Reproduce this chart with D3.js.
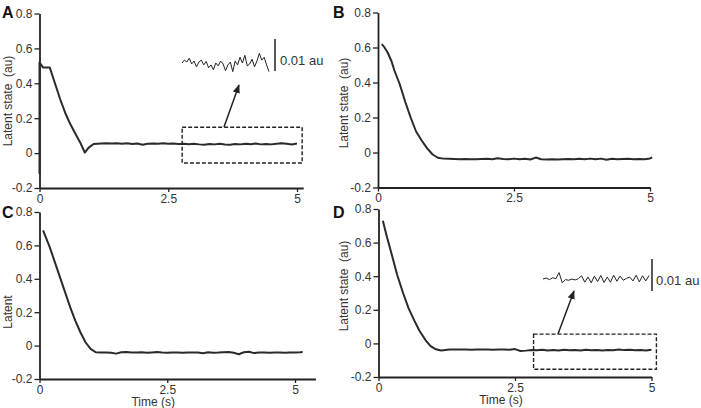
<!DOCTYPE html>
<html>
<head>
<meta charset="utf-8">
<script src="https://cdn.jsdelivr.net/npm/d3@7"></script>
<style>
  html, body { margin: 0; padding: 0; background: #fff; }
  svg { display: block; font-family: "Liberation Sans", Arial, sans-serif; }
</style>
</head>
<body>
<svg id="chart" width="701" height="408"></svg>
<script>
// ---------------- DATA ----------------
const yTicks = [-0.2, 0, 0.2, 0.4, 0.6, 0.8];
const yTickLabels = ["-0.2", "0", "0.2", "0.4", "0.6", "0.8"];
const xTicks = [0, 2.5, 5];
const xTickLabels = ["0", "2.5", "5"];

const timeA = [0,0,0.07,0.2,0.3,0.4,0.5,0.6,0.7,0.8,0.88,0.95,1.05,1.2,
  1.3,1.4,1.5,1.6,1.7,1.8,1.9,2.0,2.1,2.2,2.3,2.4,2.5,2.6,2.7,2.8,2.9,3.0,3.1,3.2,3.3,3.4,
  3.5,3.6,3.7,3.8,3.9,4.0,4.1,4.2,4.3,4.4,4.5,4.6,4.7,4.8,4.9,5.0];
const valueA = [-0.12,0.52,0.49,0.49,0.40,0.31,0.23,0.165,0.11,0.055,0.003,0.03,0.052,0.055,
  0.056,0.055,0.057,0.054,0.056,0.052,0.055,0.048,0.054,0.055,0.053,0.056,0.054,0.055,0.052,0.054,
  0.051,0.053,0.050,0.048,0.052,0.050,0.053,0.049,0.048,0.052,0.050,0.054,0.051,0.055,0.050,0.052,
  0.050,0.054,0.057,0.053,0.049,0.055];

const timeB = [0.07,0.12,0.18,0.25,0.3,0.4,0.5,0.6,0.7,0.8,0.9,1.0,1.1,1.2,
  1.3,1.4,1.5,1.6,1.7,1.8,1.9,2.0,2.1,2.2,2.3,2.4,2.5,2.6,2.7,2.8,2.9,3.0,3.1,3.2,3.3,3.4,
  3.5,3.6,3.7,3.8,3.9,4.0,4.1,4.2,4.3,4.4,4.5,4.6,4.7,4.8,4.9,5.0,5.04];
const valueB = [0.62,0.60,0.57,0.52,0.47,0.39,0.29,0.20,0.12,0.07,0.025,-0.01,-0.03,-0.035,
  -0.036,-0.037,-0.038,-0.037,-0.039,-0.038,-0.037,-0.036,-0.039,-0.033,-0.037,-0.038,-0.035,-0.038,
  -0.036,-0.040,-0.029,-0.039,-0.040,-0.039,-0.040,-0.038,-0.037,-0.039,-0.036,-0.038,-0.035,-0.039,
  -0.035,-0.041,-0.036,-0.038,-0.037,-0.036,-0.038,-0.037,-0.038,-0.034,-0.028];

const timeC = [0.07,0.2,0.3,0.4,0.5,0.6,0.7,0.8,0.9,1.0,1.1,1.2,
  1.3,1.4,1.5,1.6,1.7,1.8,1.9,2.0,2.1,2.2,2.3,2.4,2.5,2.6,2.7,2.8,2.9,3.0,3.1,3.2,3.3,3.4,
  3.5,3.6,3.7,3.8,3.9,4.0,4.1,4.2,4.3,4.4,4.5,4.6,4.7,4.8,4.9,5.0,5.1,5.15];
const valueC = [0.69,0.59,0.50,0.41,0.32,0.23,0.15,0.08,0.02,-0.02,-0.04,-0.042,
  -0.041,-0.043,-0.048,-0.040,-0.038,-0.042,-0.041,-0.040,-0.043,-0.041,-0.039,-0.042,-0.043,-0.042,
  -0.041,-0.043,-0.042,-0.041,-0.042,-0.046,-0.040,-0.043,-0.042,-0.040,-0.038,-0.043,-0.052,-0.040,
  -0.037,-0.045,-0.042,-0.041,-0.043,-0.042,-0.041,-0.043,-0.042,-0.041,-0.040,-0.039];

const timeD = [0.08,0.15,0.25,0.34,0.45,0.55,0.65,0.75,0.86,0.95,1.05,1.15,
  1.3,1.4,1.5,1.6,1.7,1.8,1.9,2.0,2.1,2.2,2.3,2.4,2.5,2.6,2.7,2.8,2.9,3.0,3.1,3.2,3.3,3.4,
  3.5,3.6,3.7,3.8,3.9,4.0,4.1,4.2,4.3,4.4,4.5,4.6,4.7,4.8,4.9,5.0];
const valueD = [0.73,0.64,0.52,0.41,0.30,0.21,0.14,0.075,0.02,-0.015,-0.035,-0.042,
  -0.037,-0.036,-0.037,-0.036,-0.038,-0.037,-0.036,-0.037,-0.038,-0.037,-0.036,-0.038,-0.034,-0.045,
  -0.043,-0.040,-0.041,-0.038,-0.042,-0.039,-0.042,-0.038,-0.041,-0.039,-0.042,-0.038,-0.041,-0.040,
  -0.042,-0.039,-0.041,-0.036,-0.040,-0.038,-0.041,-0.039,-0.042,-0.038];

// zoomed insets (deviation, au)
const insetA = [0.0000,0.0009,0.0003,0.0015,-0.0003,0.0006,-0.0012,0.0003,0.0009,-0.0006,0.0005,
  -0.0015,-0.0006,-0.0021,0.0000,-0.0009,0.0006,-0.0003,-0.0024,-0.0006,0.0003,-0.0027,0.0006,-0.0006,
  0.0018,0.0000,0.0024,-0.0009,-0.0003,0.0012,-0.0012,0.0006,0.0030,0.0009,0.0018,-0.0006,-0.0027];
const insetD = [0.0000,0.0003,-0.0002,0.0004,0.0001,0.0020,-0.0012,-0.0002,-0.0004,0.0000,-0.0003,
  0.0001,0.0010,-0.0010,0.0006,-0.0012,0.0009,-0.0008,0.0011,-0.0011,0.0006,-0.0010,0.0012,-0.0007,
  0.0009,-0.0004,0.0002,0.0006,-0.0006,0.0012,-0.0009,0.0010,-0.0006,0.0011];
const scaleBarValue = 0.01;
const scaleBarLabel = "0.01 au";

const panelLetters = ["A", "B", "C", "D"];
const yLabels = ["Latent state  (au)", "Latent state  (au)", "Latent", "Latent state  (au)"];
const xLabels = ["", "", "Time (s)", "Time (s)"];

// ---------------- LAYOUT ----------------
const panels = [
  { letter: 0, t: timeA, v: valueA, x0: 39.5, x5: 297, yTop: 13.5, yBot: 188, axisEnd: 5.12,
    lx: 2, ly: 18, ylx: 12, yly: 101,
    box: [2.77, 5.1, 0.148, -0.057], arrow: [224, 127, 239, 85],
    inset: insetA, insetX: [182, 269], insetY: 63, bar: [275, 39, 71], barText: [280, 65] },
  { letter: 1, t: timeB, v: valueB, x0: 378, x5: 650, yTop: 12.5, yBot: 187.5, axisEnd: 5.0,
    lx: 333, ly: 18, ylx: 348, yly: 103 },
  { letter: 2, t: timeC, v: valueC, x0: 39.5, x5: 295, yTop: 212, yBot: 379, axisEnd: 5.4,
    lx: 2, ly: 218, ylx: 12, yly: 312 },
  { letter: 3, t: timeD, v: valueD, x0: 378.5, x5: 651.5, yTop: 209, yBot: 377, axisEnd: 5.0,
    lx: 333, ly: 218, ylx: 348, yly: 286,
    box: [2.84, 5.09, 0.055, -0.154], arrow: [558, 334, 574, 291],
    inset: insetD, insetX: [543, 649], insetY: 279, bar: [652, 259, 291], barText: [656, 285] }
];

const svg = d3.select("#chart");
const ink = "#222";
const textInk = "#333";

svg.append("defs").append("marker")
  .attr("id", "arrowhead").attr("viewBox", "0 0 10 10")
  .attr("refX", 9).attr("refY", 5)
  .attr("markerWidth", 6).attr("markerHeight", 6)
  .attr("orient", "auto-start-reverse")
  .append("path").attr("d", "M0,1 L10,5 L0,9 z").attr("fill", ink);

panels.forEach(p => {
  const g = svg.append("g");
  const xEndPx = p.x0 + (p.x5 - p.x0) * p.axisEnd / 5;
  const x = d3.scaleLinear().domain([0, p.axisEnd]).range([p.x0, xEndPx]);
  const y = d3.scaleLinear().domain([-0.2, 0.8]).range([p.yBot, p.yTop]);

  // y axis
  const yAx = g.append("g").attr("transform", `translate(${p.x0},0)`)
    .call(d3.axisLeft(y).tickValues(yTicks).tickSize(5).tickSizeOuter(0).tickPadding(2)
      .tickFormat((d, i) => yTickLabels[i]));
  // x axis
  const xAx = g.append("g").attr("transform", `translate(0,${p.yBot})`)
    .call(d3.axisBottom(x).tickValues(xTicks).tickSize(4).tickSizeOuter(0).tickPadding(2)
      .tickFormat((d, i) => xTickLabels[i]));
  [yAx, xAx].forEach(ax => {
    ax.select(".domain").attr("stroke", ink).attr("stroke-width", 1.8);
    ax.selectAll(".tick line").attr("stroke", ink).attr("stroke-width", 1.3);
    ax.selectAll(".tick text").attr("fill", textInk)
      .style("font-family", "'Liberation Sans', Arial, sans-serif").style("font-size", "12px");
  });

  // data line
  const pts = p.t.map((t, i) => [t, p.v[i]]);
  g.append("path").datum(pts)
    .attr("fill", "none").attr("stroke", "#2a2a2a").attr("stroke-width", 2)
    .attr("stroke-linejoin", "round")
    .attr("d", d3.line().x(d => x(d[0])).y(d => y(d[1])));

  // panel letter
  g.append("text").attr("x", p.lx).attr("y", p.ly).text(panelLetters[p.letter])
    .attr("font-weight", "bold").attr("font-size", 16).attr("fill", "#111");

  // y label
  g.append("text").attr("transform", `translate(${p.ylx},${p.yly}) rotate(-90)`)
    .attr("text-anchor", "middle").attr("font-size", 12).attr("fill", textInk)
    .style("white-space", "pre").text(yLabels[p.letter]);

  // x label
  if (xLabels[p.letter]) {
    g.append("text").attr("x", x(2.5) - 14).attr("y", p.yBot + 27)
      .attr("text-anchor", "middle").attr("font-size", 12).attr("fill", textInk)
      .text(xLabels[p.letter]);
  }

  // zoom box, arrow, inset trace and scale bar
  if (p.box) {
    g.append("rect")
      .attr("x", x(p.box[0])).attr("y", y(p.box[2]))
      .attr("width", x(p.box[1]) - x(p.box[0])).attr("height", y(p.box[3]) - y(p.box[2]))
      .attr("fill", "none").attr("stroke", ink).attr("stroke-width", 1.4)
      .attr("stroke-dasharray", "4,2");
    g.append("line")
      .attr("x1", p.arrow[0]).attr("y1", p.arrow[1]).attr("x2", p.arrow[2]).attr("y2", p.arrow[3])
      .attr("stroke", ink).attr("stroke-width", 1.5).attr("marker-end", "url(#arrowhead)");
    const ix = d3.scaleLinear().domain([0, p.inset.length - 1]).range(p.insetX);
    const pxPerAu = (p.bar[2] - p.bar[1]) / scaleBarValue;
    const iy = d3.scaleLinear().domain([0, 1]).range([p.insetY, p.insetY - pxPerAu]);
    g.append("path").datum(p.inset)
      .attr("fill", "none").attr("stroke", "#222").attr("stroke-width", 1)
      .attr("d", d3.line().x((d, i) => ix(i)).y(d => iy(d)));
    g.append("line").attr("x1", p.bar[0]).attr("x2", p.bar[0])
      .attr("y1", p.bar[1]).attr("y2", p.bar[2])
      .attr("stroke", ink).attr("stroke-width", 1.5);
    g.append("text").attr("x", p.barText[0]).attr("y", p.barText[1])
      .attr("font-size", 13).attr("fill", textInk).text(scaleBarLabel);
  }
});
</script>
</body>
</html>
